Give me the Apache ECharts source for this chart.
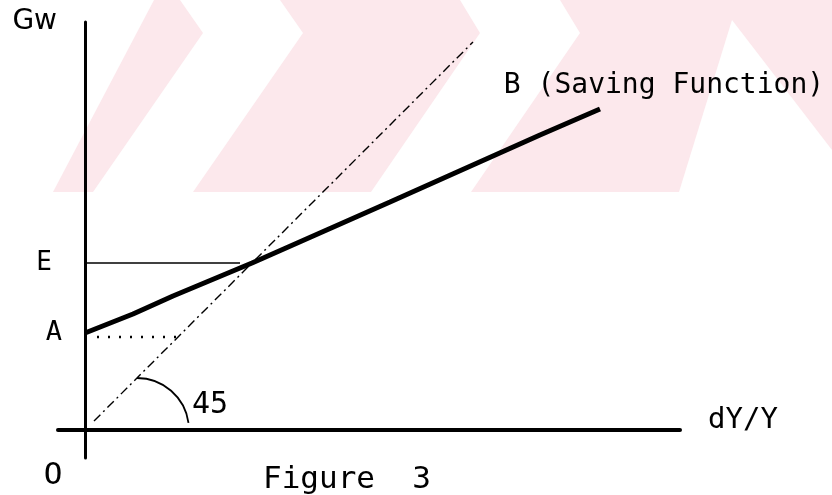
<!DOCTYPE html>
<html>
<head>
<meta charset="utf-8">
<script src="https://cdn.jsdelivr.net/npm/echarts@6/dist/echarts.min.js"></script>
<style>
  html, body { margin: 0; padding: 0; background: #fff; }
  #chart { width: 832px; height: 495px; }
</style>
</head>
<body>
<div id="chart"></div>
<script>
  // saving function B
  const savingX = [0, 4.8, 8.8, 16.7, 30.5, 45.5, 51.5]
  const savingY = [9.7, 11.6, 13.4, 16.7, 22.8, 29.5, 32.1]
  // 45 degree line
  const diagX = [0.9, 38.8]
  const diagY = [0.9, 38.8]
  // levels on the Gw axis
  const levelE = 16.7
  const levelA = 9.7
  const eLineX = [0.2, 15.5]
  const aDotX = [1.2, 9.3]
  const aDotY = 9.3
  const yTickValues = [levelA, levelE]
  const yTickLabels = ['A', 'E']
  // angle mark at the foot of the 45 degree line
  const arcCenter = [5.2, 0]
  const arcRadius = 5.2
  const arcText = '45'
  const curveName = 'B (Saving Function)'

  const FONT = 'DejaVu Sans Mono'
  const PINK = '#fce8ec'

  const chart = echarts.init(document.getElementById('chart'))

  // faint watermark of the scanned page (pixels): pink band with white chevrons
  const band = [[53, 192], [154, 0], [832, 0], [832, 192]]
  const gaps = [
    [[180, 0], [280, 0], [303, 33], [193, 192], [93, 192], [203, 33]],
    [[460, 0], [560, 0], [580, 33], [471, 192], [371, 192], [480, 33]],
    [[679, 192], [732, 20], [832, 150], [832, 192]]
  ]

  // text notes anchored to data points, shifted in pixels
  const last = savingX.length - 1
  const noteText = ['O', arcText, curveName]
  const noteAnchor = [[0, 0], arcCenter, [savingX[last], savingY[last]]]
  const noteShift = [[-32, 46], [73, -25], [64, -23]]
  const noteSize = [31, 30, 28]

  const option = {
    animation: false,
    backgroundColor: '#fff',
    title: {
      text: 'Figure  3',
      left: 258,
      top: 459,
      textStyle: { fontFamily: FONT, fontSize: 31, fontWeight: 'normal', color: '#000' }
    },
    graphic: [{ type: 'polygon', z: -10, silent: true, shape: { points: band }, style: { fill: PINK } }].concat(
      gaps.map(function (p) {
        return { type: 'polygon', z: -9, silent: true, shape: { points: p }, style: { fill: '#fff' } }
      })
    ),
    grid: { left: 58, right: 152, top: 22, bottom: 37 },
    xAxis: {
      type: 'value',
      min: -2.7,
      max: 59.5,
      name: 'dY/Y',
      nameLocation: 'end',
      nameGap: 28,
      nameTextStyle: { fontFamily: FONT, fontSize: 29, color: '#000', verticalAlign: 'bottom', lineHeight: 20 },
      axisLine: { onZero: true, lineStyle: { color: '#000', width: 4 } },
      axisTick: { show: false },
      axisLabel: { show: false },
      splitLine: { show: false }
    },
    yAxis: {
      type: 'value',
      min: -2.8,
      max: 40.8,
      name: 'Gw',
      nameLocation: 'end',
      nameGap: 0,
      nameTextStyle: { fontFamily: 'DejaVu Sans', fontSize: 28, color: '#000', align: 'right', verticalAlign: 'middle', padding: [0, 28, 0, 0] },
      axisLine: { onZero: true, lineStyle: { color: '#000', width: 3 } },
      axisTick: { show: false },
      splitLine: { show: false },
      axisLabel: {
        customValues: yTickValues,
        margin: -4,
        color: '#000',
        fontFamily: FONT,
        fontSize: 27,
        formatter: function (v) {
          const i = yTickValues.indexOf(v)
          return i === 1 ? '{e|' + yTickLabels[i] + '}' : yTickLabels[i]
        },
        rich: { e: { fontFamily: FONT, fontSize: 26, color: '#000', padding: [0, 10, 0, 0] } }
      }
    },
    series: [
      {
        name: 'Saving Function',
        type: 'line',
        data: savingX.map(function (x, i) { return [x, savingY[i]] }),
        symbol: 'none',
        lineStyle: { color: '#000', width: 5 },
        z: 5
      },
      {
        name: '45 degree',
        type: 'line',
        data: diagX.map(function (x, i) { return [x, diagY[i]] }),
        symbol: 'none',
        lineStyle: { color: '#000', width: 1.4, type: [9, 4, 2, 4] }
      },
      {
        name: 'E level',
        type: 'line',
        data: eLineX.map(function (x) { return [x, levelE] }),
        symbol: 'none',
        lineStyle: { color: '#000', width: 1.4 }
      },
      {
        name: 'A level',
        type: 'line',
        data: aDotX.map(function (x) { return [x, aDotY] }),
        symbol: 'none',
        lineStyle: { color: '#000', width: 2.6, type: [2, 9] }
      },
      {
        name: 'angle',
        type: 'custom',
        data: [[arcCenter[0], arcCenter[1], arcRadius]],
        renderItem: function (params, api) {
          const c = api.coord([api.value(0), api.value(1)])
          const r = api.size([api.value(2), 0])[0]
          return {
            type: 'arc',
            shape: { cx: c[0], cy: c[1], r: r, startAngle: -Math.PI / 2, endAngle: -8 * Math.PI / 180, clockwise: true },
            style: { stroke: '#000', fill: null, lineWidth: 1.8 }
          }
        }
      },
      {
        name: 'notes',
        type: 'custom',
        silent: true,
        data: noteAnchor.map(function (p, i) { return [p[0], p[1], i] }),
        renderItem: function (params, api) {
          const i = api.value(2)
          const c = api.coord([api.value(0), api.value(1)])
          return {
            type: 'text',
            x: c[0] + noteShift[i][0],
            y: c[1] + noteShift[i][1],
            style: {
              text: noteText[i],
              fill: '#000',
              font: noteSize[i] + 'px "' + FONT + '"',
              align: 'center',
              verticalAlign: 'middle'
            }
          }
        }
      }
    ]
  }

  chart.setOption(option)
</script>
</body>
</html>
